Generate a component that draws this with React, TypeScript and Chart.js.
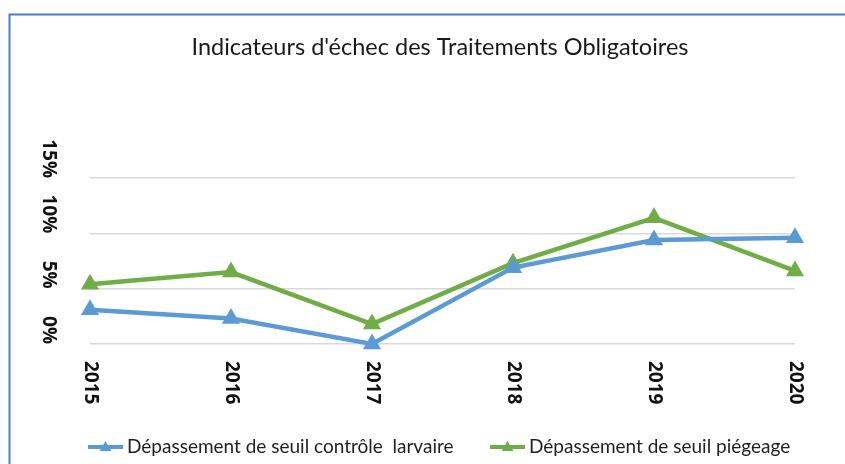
import React, { useEffect, useRef } from "react";
import { Chart, registerables } from "chart.js";

Chart.register(...registerables);

const chartTitle = "Indicateurs d'échec des Traitements Obligatoires";
const years = ["2015", "2016", "2017", "2018", "2019", "2020"];
const larvaire = [0.031, 0.023, 0.0, 0.069, 0.094, 0.096];
const piegeage = [0.054, 0.065, 0.018, 0.073, 0.114, 0.066];
const seriesNames = ["Dépassement de seuil contrôle  larvaire", "Dépassement de seuil piégeage"];
const yTickValues = [0, 0.05, 0.1, 0.15];
const yTickLabels = ["0%", "5%", "10%", "15%"];

const BLUE = "#5B9BD5";
const GREEN = "#70AD47";
const FONT = "Lato, 'Open Sans', sans-serif";
const BOLD_FONT = "'Open Sans', 'Noto Sans', sans-serif";

const decorPlugin = {
  id: "decor",
  beforeDraw(chart: any) {
    const ctx = chart.ctx;
    ctx.save();
    ctx.fillStyle = "#ffffff";
    ctx.fillRect(0, 0, chart.width, chart.height);
    ctx.strokeStyle = "#4a7bd0";
    ctx.lineWidth = 2;
    ctx.beginPath();
    ctx.moveTo(9.5, chart.height + 5);
    ctx.lineTo(9.5, 14.5);
    ctx.lineTo(chart.width + 5, 14.5);
    ctx.stroke();
    ctx.restore();
  },
  afterDraw(chart: any) {
    const ctx = chart.ctx;
    const xs = chart.scales.x;
    const ys = chart.scales.y;
    ctx.save();
    // title
    ctx.fillStyle = "#1a1a1a";
    ctx.font = `23.5px ${FONT}`;
    ctx.textAlign = "center";
    ctx.textBaseline = "middle";
    ctx.fillText(chartTitle, 440, 47);

    // x tick labels (rotated clockwise)
    ctx.font = `bold 19px ${BOLD_FONT}`;
    ctx.fillStyle = "#111111";
    years.forEach((yr, i) => {
      const px = xs.getPixelForValue(i);
      ctx.save();
      ctx.translate(px, 361);
      ctx.rotate(Math.PI / 2);
      ctx.textAlign = "left";
      ctx.textBaseline = "middle";
      ctx.fillText(yr, 0, 0);
      ctx.restore();
    });
    // y tick labels (rotated clockwise, ending at gridline)
    yTickValues.forEach((v, i) => {
      const py = ys.getPixelForValue(v);
      ctx.save();
      ctx.translate(48, py);
      ctx.rotate(Math.PI / 2);
      ctx.textAlign = "right";
      ctx.textBaseline = "middle";
      ctx.fillText(yTickLabels[i], 0, 0);
      ctx.restore();
    });

    // legend
    const items = [
      { name: seriesNames[0], color: BLUE, x0: 88 },
      { name: seriesNames[1], color: GREEN, x0: 490 },
    ];
    const ly = 447;
    items.forEach((it) => {
      ctx.strokeStyle = it.color;
      ctx.lineWidth = 4;
      ctx.beginPath();
      ctx.moveTo(it.x0, ly);
      ctx.lineTo(it.x0 + 35, ly);
      ctx.stroke();
      ctx.fillStyle = it.color;
      const cx = it.x0 + 17.5;
      ctx.beginPath();
      ctx.moveTo(cx, ly - 6);
      ctx.lineTo(cx + 6, ly + 4);
      ctx.lineTo(cx - 6, ly + 4);
      ctx.closePath();
      ctx.fill();
      ctx.fillStyle = "#1f1f1f";
      ctx.font = `19px ${FONT}`;
      ctx.textAlign = "left";
      ctx.textBaseline = "middle";
      ctx.fillText(it.name, it.x0 + 39, ly);
    });
    ctx.restore();
  },
};

export default function App() {
  const ref = useRef<HTMLCanvasElement | null>(null);
  useEffect(() => {
    if (!ref.current) return;
    const chart = new Chart(ref.current, {
      type: "line",
      data: {
        labels: years,
        datasets: [
          {
            label: seriesNames[0],
            data: larvaire,
            borderColor: BLUE,
            backgroundColor: BLUE,
            borderWidth: 4.5,
            pointStyle: "triangle",
            pointRadius: 10.5,
            pointBorderWidth: 0,
            tension: 0,
            clip: false,
          },
          {
            label: seriesNames[1],
            data: piegeage,
            borderColor: GREEN,
            backgroundColor: GREEN,
            borderWidth: 4.5,
            pointStyle: "triangle",
            pointRadius: 10.5,
            pointBorderWidth: 0,
            tension: 0,
            clip: false,
          },
        ],
      },
      options: {
        responsive: false,
        animation: false,
        layout: { padding: { left: 90, right: 50, top: 178, bottom: 120 } },
        plugins: {
          legend: { display: false },
          title: { display: false },
          tooltip: { enabled: false },
        },
        scales: {
          x: {
            offset: false,
            grid: { display: false, drawTicks: false },
            border: { display: false },
            ticks: { display: false },
            afterFit: (s: any) => {
              s.height = 0;
            },
          },
          y: {
            min: 0,
            max: 0.15,
            ticks: { display: false, stepSize: 0.05 },
            grid: { color: "#d9d9d9", lineWidth: 1.5, drawTicks: false },
            border: { display: false },
            afterFit: (s: any) => {
              s.width = 0;
            },
          },
        },
      },
      plugins: [decorPlugin],
    });
    return () => chart.destroy();
  }, []);
  return (
    <div style={{ position: "fixed", left: 0, top: 0, width: 845, height: 464, background: "#fff" }}>
      <canvas ref={ref} width={845} height={464} style={{ display: "block" }} />
    </div>
  );
}
